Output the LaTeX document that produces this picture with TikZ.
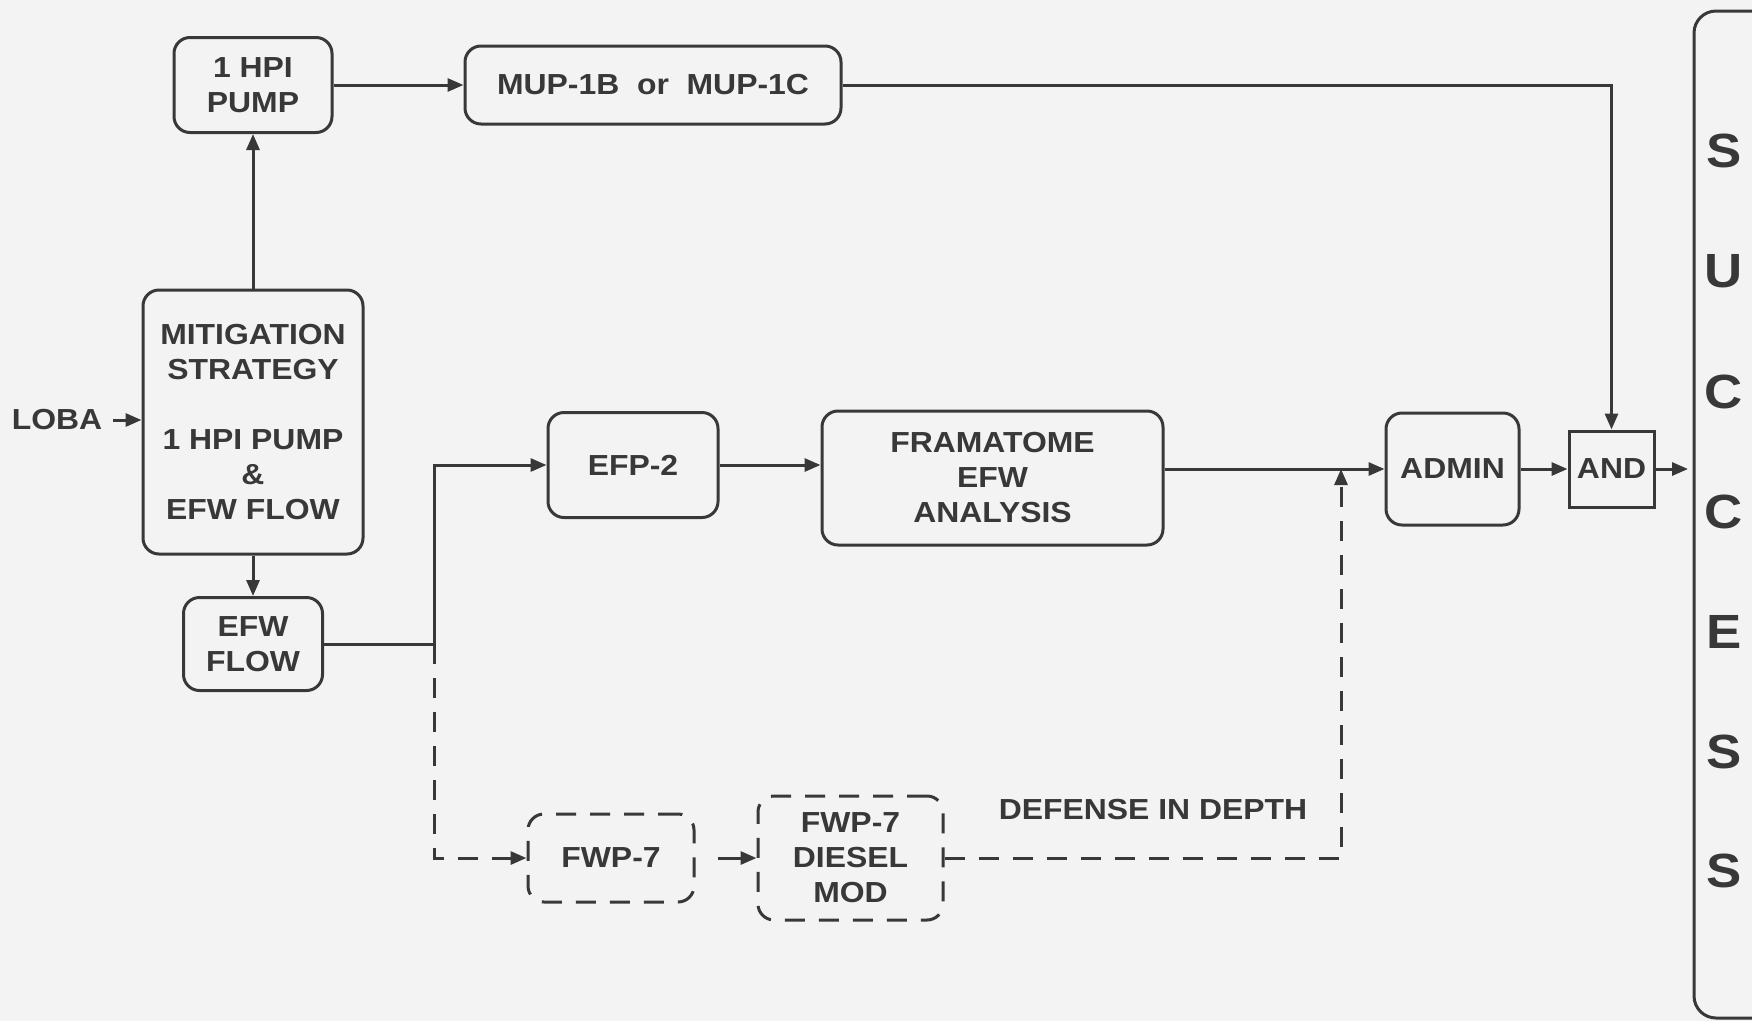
\documentclass[tikz,border=0pt]{standalone}
\usepackage{fontspec}
\setmainfont[FakeStretch=1.1]{Liberation Sans}
\usetikzlibrary{arrows.meta}
\definecolor{ink}{HTML}{383838}
\definecolor{paper}{HTML}{F3F3F3}
\begin{document}
\begin{tikzpicture}[x=1pt,y=-1pt,
  every node/.style={font=\fontsize{29}{35}\selectfont\bfseries, text=ink, align=center, inner sep=0pt},
  box/.style={draw=ink, line width=3pt, rounded corners=16pt},
  sqbox/.style={draw=ink, line width=3pt},
  dbox/.style={box, dash pattern=on 20pt off 14pt},
  conn/.style={draw=ink, line width=3pt},
  arr/.style={conn, -{Triangle[length=16pt,width=13pt]}},
  darr/.style={arr, dash pattern=on 20pt off 14pt},
  dconn/.style={conn, dash pattern=on 20pt off 14pt},
  big/.style={font=\fontsize{48}{50}\selectfont\bfseries}
]
\fill[paper] (0,0) rectangle (1752,1021);
\useasboundingbox (0,0) rectangle (1752,1021);
\clip (0,0) rectangle (1752,1021);

% nodes
\node[box, minimum width=158pt, minimum height=95pt] (hpi) at (253,85) {1 HPI\\PUMP};
\node[box, minimum width=376pt, minimum height=78pt] (mup) at (653,85) {MUP-1B\ \ or\ \ MUP-1C};
\node[box, minimum width=220pt, minimum height=264pt] (mit) at (253,422)
  {MITIGATION\\STRATEGY\\[35pt]1 HPI PUMP\\\&\\EFW FLOW};
\node (loba) at (57,420) {LOBA};
\node[box, minimum width=139pt, minimum height=93pt] (efw) at (253,644) {EFW\\FLOW};
\node[box, minimum width=170pt, minimum height=105pt] (efp) at (633,465) {EFP-2};
\node[box, minimum width=341pt, minimum height=134pt] (fram) at (992.5,478) {FRAMATOME\\EFW\\ANALYSIS};
\node[box, minimum width=133pt, minimum height=112pt] (admin) at (1452.5,469) {ADMIN};
\node[sqbox, minimum width=85pt, minimum height=76pt] (and) at (1611.5,469) {AND};
\node[dbox, minimum width=166pt, minimum height=88pt] (fwp) at (611,858) {FWP-7};
\node[dbox, minimum width=185pt, minimum height=124pt] (diesel) at (850.5,858) {FWP-7\\DIESEL\\MOD};
\node (did) at (1153,810) {DEFENSE IN DEPTH};

% SUCCESS bar
\draw[box, rounded corners=22pt] (1694,11) rectangle (1810,1018);
\coordinate (succ) at (1694,469);
\node[big] (s1) at (1724,151) {S};
\node[big] (s2) at (1724,271) {U};
\node[big] (s3) at (1724,392) {C};
\node[big] (s4) at (1724,512) {C};
\node[big] (s5) at (1724,632) {E};
\node[big] (s6) at (1724,752) {S};
\node[big] (s7) at (1724,871) {S};

% junctions
\coordinate (j1) at (434,644);
\coordinate (j2) at (1341,858);

% connectors
\draw[arr] (hpi) -- (mup);
\draw[arr] (mit) -- (hpi);
\draw[arr] (mit) -- (efw);
\draw[arr, shorten <=11pt] (loba.east) -- (loba.east -| mit.west);
\draw[arr] (mup.east) -| (and.north);
\draw[arr] (efw.east) -- (j1) |- (efp.west);
\draw[arr] (efp.east) -- (efp.east -| fram.west);
\draw[arr] (fram.east |- admin.west) -- (admin.west);
\draw[arr] (admin) -- (and);
\draw[arr, shorten >=6pt] (and.east) -- (succ);
\draw[darr] (j1) |- (fwp.west);
\draw[arr, shorten <=22pt] (fwp.east) -- (diesel.west);
\draw[darr] (diesel.east) -- (j2) -- (j2 |- admin.west);
\end{tikzpicture}
\end{document}
